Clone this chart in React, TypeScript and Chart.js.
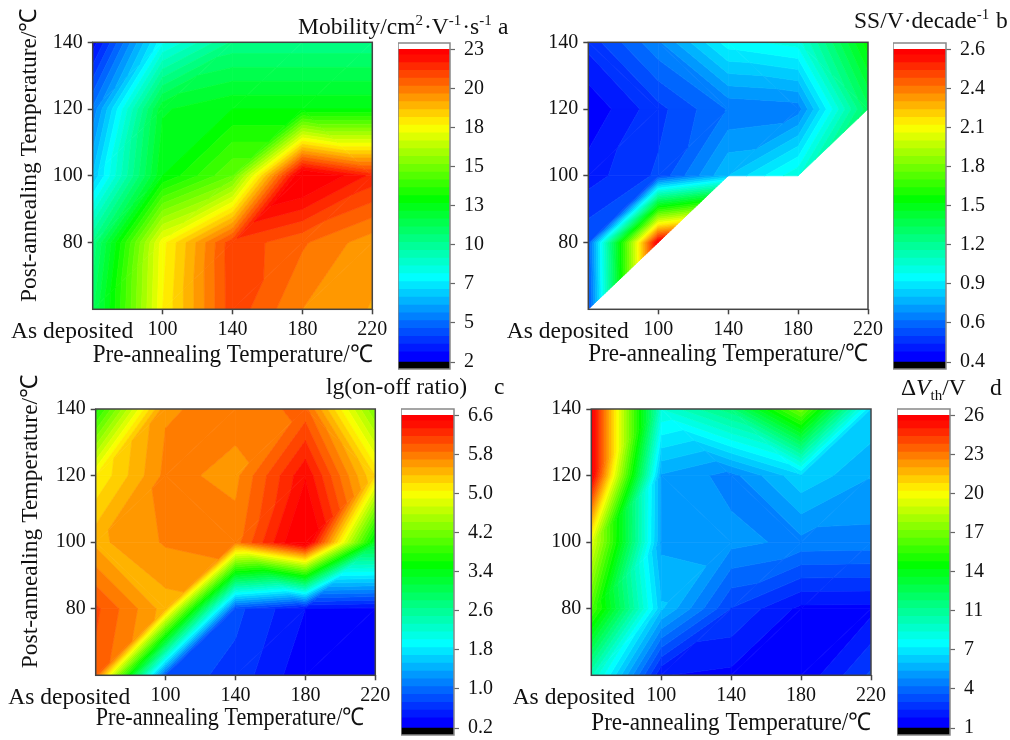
import React, { useEffect, useRef } from "react";
import { Chart, registerables } from "chart.js";

Chart.register(...registerables);

// ---------- data ----------
const preTemps = [60, 100, 140, 180, 220];
const postTemps = [60, 80, 100, 120, 140];
const preTickLabels = ["As deposited", "100", "140", "180", "220"];
const postTickLabels = ["", "80", "100", "120", "140"];

// rows run from post-annealing 60 to 140, columns from pre-annealing 60 to 220
const mobility = [
  [11.0, 17.9, 21.37, 19.98, 19.42],
  [10.2, 17.7, 21.4, 20.58, 19.66],
  [6.5, 12.7, 14.8, 23.54, 21.9],
  [5.0, 12.1, 12.7, 12.7, 12.7],
  [2.5, 7.9, 10.2, 10.2, 10.2],
];
const swing = [
  [0.58, null, null, null, null],
  [0.61, 2.6, null, null, null],
  [0.484, 0.575, 0.84, 1.05, null],
  [0.41, 0.546, 0.68, 0.7, 1.32],
  [0.53, 0.72, 0.98, 1.03, 1.54],
];
const onOff = [
  [5.9, 0.78, 0.62, 0.24, 0.22],
  [6.0, 5.4, 0.73, 0.36, 0.3],
  [5.434, 5.66, 5.72, 6.74, 3.26],
  [5.0, 5.69, 5.59, 6.42, 5.15],
  [3.6, 5.62, 5.7, 5.85, 4.17],
];
const deltaVth = [
  [9.25, 1.65, 1.45, 1.11, 3.0],
  [15.5, 6.1, 2.84, 1.45, 1.43],
  [19.0, 5.2, 4.97, 4.55, 4.5],
  [25.9, 5.3, 4.5, 6.5, 5.42],
  [25.9, 8.5, 10.8, 16.5, 6.6],
];

const mobilityTicks = ["2", "5", "7", "10", "13", "15", "18", "20", "23"];
const swingTicks = ["0.4", "0.6", "0.9", "1.2", "1.5", "1.8", "2.1", "2.4", "2.6"];
const onOffTicks = ["0.2", "1.0", "1.8", "2.6", "3.4", "4.2", "5.0", "5.8", "6.6"];
const deltaTicks = ["1", "4", "7", "11", "14", "17", "20", "23", "26"];

const yTitle = "Post-annealing Temperature/\u2103";
const xTitle = "Pre-annealing Temperature/\u2103";

// ---------- layout ----------
const FONT = '"Liberation Serif"';
const BANDS = 40;
const panels = [
  {
    grid: mobility, lo: 2.3, hi: 23.1, ticks: mobilityTicks,
    box: [0, 0, 510, 375], plot: [92.7, 42.3, 372.3, 309.3], bar: [398, 41.7, 450, 370],
    yTitle: true, yTitlePad: 16, xTitlePad: 5, xLead: 0, xTrail: 0, depositedPad: 7,
    head: { x: 298, y: 34, runs: [["Mobility/cm"], ["2", "sup"], ["\u00B7V"], ["-1", "sup"], ["\u00B7s"], ["-1", "sup"]] },
    letter: { t: "a", x: 498, y: 34 },
  },
  {
    grid: swing, lo: 0.4, hi: 2.6, ticks: swingTicks,
    box: [500, 0, 510, 375], plot: [588.3, 42.3, 868, 309.3], bar: [893.3, 41.7, 946, 370],
    yTitle: false, yTitlePad: 0, xTitlePad: 6, xLead: 0, xTrail: 0, depositedPad: 7,
    head: { x: 854, y: 28, runs: [["SS/V\u00B7decade"], ["-1", "sup"]] },
    letter: { t: "b", x: 996, y: 28 },
  },
  {
    grid: onOff, lo: 0.2, hi: 6.6, ticks: onOffTicks,
    box: [0, 370, 510, 370], plot: [95.7, 409, 375.3, 675.3], bar: [400.7, 408.3, 453.3, 736.7],
    yTitle: true, yTitlePad: 17, xTitlePad: 7, xLead: 0, xTrail: 2, depositedPad: 9,
    head: { x: 326, y: 394, runs: [["lg(on-off ratio)"]] },
    letter: { t: "c", x: 494, y: 394 },
  },
  {
    grid: deltaVth, lo: 1, hi: 26, ticks: deltaTicks,
    box: [500, 370, 510, 370], plot: [591.3, 409, 871, 675.3], bar: [896.7, 408.3, 949.3, 736.7],
    yTitle: false, yTitlePad: 0, xTitlePad: 2, xLead: 0, xTrail: 0, depositedPad: 6,
    head: { x: 901, y: 395, runs: [["\u0394"], ["V", "ital"], ["th", "sub"], ["/V"]] },
    letter: { t: "d", x: 990, y: 395 },
  },
];

// ---------- colours ----------
function ramp(f: number) {
  const s = Math.max(0, Math.min(1, f)) * 4;
  const k = Math.min(3, Math.floor(s));
  const t = s - k;
  const stops = [[0, 0, 255], [0, 255, 255], [0, 255, 0], [255, 255, 0], [255, 0, 0]];
  const c = stops[k].map((a, i) => Math.round(a + (stops[k + 1][i] - a) * t));
  return `rgb(${c[0]},${c[1]},${c[2]})`;
}
const bandColor = (i: number) => ramp(i <= BANDS / 2 ? i / BANDS : 0.5 + (0.5 * (i - BANDS / 2)) / 18.5);

// ---------- contour fill drawn through the chart's scales ----------
type Node = { x: number; y: number; v: number };

function clipAbove(poly: Node[], level: number, sign: number) {
  const out: Node[] = [];
  for (let i = 0; i < poly.length; i++) {
    const a = poly[i];
    const b = poly[(i + 1) % poly.length];
    const ia = sign * (a.v - level) >= 0;
    const ib = sign * (b.v - level) >= 0;
    if (ia) out.push(a);
    if (ia !== ib) {
      const t = (level - a.v) / (b.v - a.v);
      out.push({ x: a.x + (b.x - a.x) * t, y: a.y + (b.y - a.y) * t, v: level });
    }
  }
  return out;
}

const contourPlugin = {
  id: "contour",
  beforeDatasetsDraw(chart: any, _a: any, opts: any) {
    const { grid, lo, hi } = opts;
    if (!grid) return;
    const { ctx, chartArea: ca } = chart;
    const sx = chart.scales.x;
    const sy = chart.scales.y;
    const step = (hi - lo) / BANDS;
    const node = (r: number, c: number): Node | null =>
      grid[r][c] === null ? null : { x: preTemps[c], y: postTemps[r], v: grid[r][c] };
    const tris: Node[][] = [];
    for (let r = 0; r < postTemps.length - 1; r++) {
      for (let c = 0; c < preTemps.length - 1; c++) {
        const ll = node(r, c), lr = node(r, c + 1), ul = node(r + 1, c), ur = node(r + 1, c + 1);
        if (ll && lr && ul && ur && Math.abs(ul.v - lr.v) < Math.abs(ll.v - ur.v)) {
          // split each cell along the diagonal with the smaller change in value
          tris.push([ul, ll, lr], [ul, lr, ur]);
        } else {
          if (ll && lr && ur) tris.push([ll, lr, ur]);
          if (ll && ur && ul) tris.push([ll, ur, ul]);
        }
      }
    }
    ctx.save();
    ctx.beginPath();
    ctx.rect(ca.left, ca.top, ca.right - ca.left, ca.bottom - ca.top);
    ctx.clip();
    ctx.lineWidth = 0.7;
    ctx.lineJoin = "round";
    for (const tri of tris) {
      for (let b = 0; b < BANDS; b++) {
        let poly = tri;
        if (b > 0) poly = clipAbove(poly, lo + b * step, 1);
        if (poly.length > 2 && b < BANDS - 1) poly = clipAbove(poly, lo + (b + 1) * step, -1);
        if (poly.length < 3) continue;
        ctx.beginPath();
        poly.forEach((p: Node, i: number) => {
          const px = sx.getPixelForValue(p.x);
          const py = sy.getPixelForValue(p.y);
          if (i === 0) ctx.moveTo(px, py);
          else ctx.lineTo(px, py);
        });
        ctx.closePath();
        ctx.fillStyle = bandColor(b);
        ctx.strokeStyle = bandColor(b);
        ctx.fill();
        ctx.stroke();
      }
    }
    ctx.restore();
  },
};

const framePlugin = {
  id: "frame",
  afterDatasetsDraw(chart: any, _a: any, opts: any) {
    const { ctx, chartArea: ca } = chart;
    ctx.save();
    ctx.strokeStyle = opts.color || "#444";
    ctx.lineWidth = opts.width || 1.5;
    ctx.strokeRect(ca.left, ca.top, ca.right - ca.left, ca.bottom - ca.top);
    ctx.restore();
  },
};

const headPlugin = {
  id: "head",
  afterDraw(chart: any, _a: any, opts: any) {
    if (!opts.panel) return;
    const { head, letter, box } = opts.panel;
    const { ctx } = chart;
    ctx.save();
    ctx.fillStyle = "#111";
    ctx.textBaseline = "alphabetic";
    ctx.textAlign = "left";
    let x = head.x - box[0];
    const y = head.y - box[1];
    for (const [t, kind] of head.runs) {
      const small = kind === "sup" || kind === "sub";
      ctx.font = `${kind === "ital" ? "italic " : ""}${small ? 15 : 23.5}px ${FONT}`;
      const dy = kind === "sup" ? -9 : kind === "sub" ? 5 : 0;
      ctx.fillText(t, x, y + dy);
      x += ctx.measureText(t).width + (kind === "sup" ? 1 : 0);
    }
    ctx.font = `23.5px ${FONT}`;
    ctx.fillText(letter.t, letter.x - box[0], letter.y - box[1]);
    ctx.restore();
  },
};

function makePanel(canvas: HTMLCanvasElement, p: (typeof panels)[number]) {
  const [bx, by, bw, bh] = p.box;
  const [pl, pt, pr, pb] = p.plot;
  const nodes: { x: number; y: number; v: number }[] = [];
  p.grid.forEach((row, r) =>
    row.forEach((v, c) => {
      if (v !== null) nodes.push({ x: preTemps[c], y: postTemps[r], v });
    })
  );
  const tickColor = (c: any) => (c.tick && c.tick.value === 60 ? "transparent" : "#444");
  const font = { family: FONT, size: 20 };
  const wide = { family: FONT, size: 23.5 };
  return new Chart(canvas, {
    type: "scatter",
    data: { datasets: [{ data: nodes, pointRadius: 0, showLine: false }] },
    plugins: [contourPlugin, framePlugin, headPlugin],
    options: {
      animation: false,
      responsive: false,
      layout: { padding: { top: pt - by, right: bx + bw - pr, left: 0, bottom: 0 } },
      plugins: {
        legend: { display: false },
        tooltip: { enabled: false },
        contour: { grid: p.grid, lo: p.lo, hi: p.hi },
        frame: { color: "#444", width: 1.5 },
        head: { panel: p },
      } as any,
      scales: {
        x: {
          type: "linear",
          min: 60,
          max: 220,
          afterFit: (s: any) => { s.height = by + bh - pb; },
          afterBuildTicks: (s: any) => { s.ticks = preTemps.map((value) => ({ value })); },
          grid: { drawOnChartArea: false, drawTicks: true, tickLength: 5, tickWidth: 1.5, tickColor },
          border: { display: false },
          ticks: {
            autoSkip: false, minRotation: 0, maxRotation: 0, padding: 3,
            color: "#111",
            font: (c: any) => (c.index === 0 ? wide : font),
            callback: (_v: any, i: number) =>
              i === 0 ? preTickLabels[0] + "\u00A0".repeat(p.depositedPad) : preTickLabels[i],
          },
          title: {
            display: true,
            text: "\u00A0".repeat(p.xLead) + xTitle + "\u00A0".repeat(p.xTrail),
            color: "#111",
            font: { family: FONT, size: 24.4 },
            padding: { top: 0, bottom: p.xTitlePad },
          },
        },
        y: {
          type: "linear",
          min: 60,
          max: 140,
          afterFit: (s: any) => { s.width = pl - bx; },
          afterBuildTicks: (s: any) => { s.ticks = postTemps.map((value) => ({ value })); },
          grid: { drawOnChartArea: false, drawTicks: true, tickLength: 5, tickWidth: 1.5, tickColor },
          border: { display: false },
          ticks: {
            autoSkip: false, padding: 5, color: "#111", font,
            callback: (_v: any, i: number) => postTickLabels[i],
          },
          title: {
            display: p.yTitle,
            text: "\u00A0".repeat(7) + yTitle,
            color: "#111",
            font: wide,
            padding: { top: p.yTitlePad, bottom: 0 },
          },
        },
      } as any,
    },
  });
}

function makeBar(canvas: HTMLCanvasElement, p: (typeof panels)[number]) {
  const [, t, , b] = p.bar;
  const { lo, hi } = p;
  const span = hi - lo;
  const pxPerUnit = (b - t - 13.3) / span;
  const min = lo - 7 / pxPerUnit;
  const max = hi + 6.3 / pxPerUnit;
  const step = span / BANDS;
  const sets: any[] = [];
  const common = { grouped: false, barPercentage: 1, categoryPercentage: 1, borderWidth: 0 };
  sets.push({ ...common, data: [[min, lo]], backgroundColor: "#000" });
  for (let i = 0; i < BANDS; i++) {
    sets.push({
      ...common,
      data: [[lo + i * step, Math.min(hi, lo + (i + 1.3) * step)]],
      backgroundColor: bandColor(i),
    });
  }
  sets.push({ ...common, data: [[hi, max]], backgroundColor: "#fff" });
  const tickVals = p.ticks.map((_s, i) => lo + (i * span) / (p.ticks.length - 1));
  return new Chart(canvas, {
    type: "bar",
    data: { labels: [""], datasets: sets },
    plugins: [framePlugin],
    options: {
      animation: false,
      responsive: false,
      layout: { padding: { top: 20, bottom: 20, left: 0, right: 0 } },
      plugins: {
        legend: { display: false },
        tooltip: { enabled: false },
        frame: { color: "#888", width: 1.5 },
      } as any,
      scales: {
        x: { display: false, offset: true },
        y: {
          type: "linear",
          position: "right",
          min,
          max,
          afterFit: (s: any) => { s.width = 60; },
          afterBuildTicks: (s: any) => { s.ticks = tickVals.map((value) => ({ value })); },
          grid: { drawOnChartArea: false, drawTicks: true, tickLength: 5, tickWidth: 1.2, tickColor: "#666" },
          border: { display: false },
          ticks: {
            autoSkip: false, padding: 9, color: "#111",
            font: { family: FONT, size: 20 },
            callback: (_v: any, i: number) => p.ticks[i],
          },
        },
      } as any,
    },
  });
}

export default function App() {
  const panelRefs = useRef<(HTMLCanvasElement | null)[]>([]);
  const barRefs = useRef<(HTMLCanvasElement | null)[]>([]);
  useEffect(() => {
    const charts: Chart[] = [];
    panels.forEach((p, i) => {
      charts.push(makePanel(panelRefs.current[i]!, p));
      charts.push(makeBar(barRefs.current[i]!, p));
    });
    return () => charts.forEach((c) => c.destroy());
  }, []);
  return (
    <div style={{ position: "absolute", left: 0, top: 0, width: 1010, height: 740, overflow: "hidden", background: "#fff" }}>
      {panels.map((p, i) => (
        <canvas
          key={"p" + i}
          ref={(el) => { panelRefs.current[i] = el; }}
          width={p.box[2]}
          height={p.box[3]}
          style={{ position: "absolute", left: p.box[0], top: p.box[1], width: p.box[2], height: p.box[3] }}
        />
      ))}
      {panels.map((p, i) => {
        const w = p.bar[2] - p.bar[0] + 60;
        const h = p.bar[3] - p.bar[1] + 40;
        return (
          <canvas
            key={"b" + i}
            ref={(el) => { barRefs.current[i] = el; }}
            width={Math.round(w)}
            height={Math.round(h)}
            style={{ position: "absolute", left: p.bar[0], top: p.bar[1] - 20, width: Math.round(w), height: Math.round(h) }}
          />
        );
      })}
    </div>
  );
}
